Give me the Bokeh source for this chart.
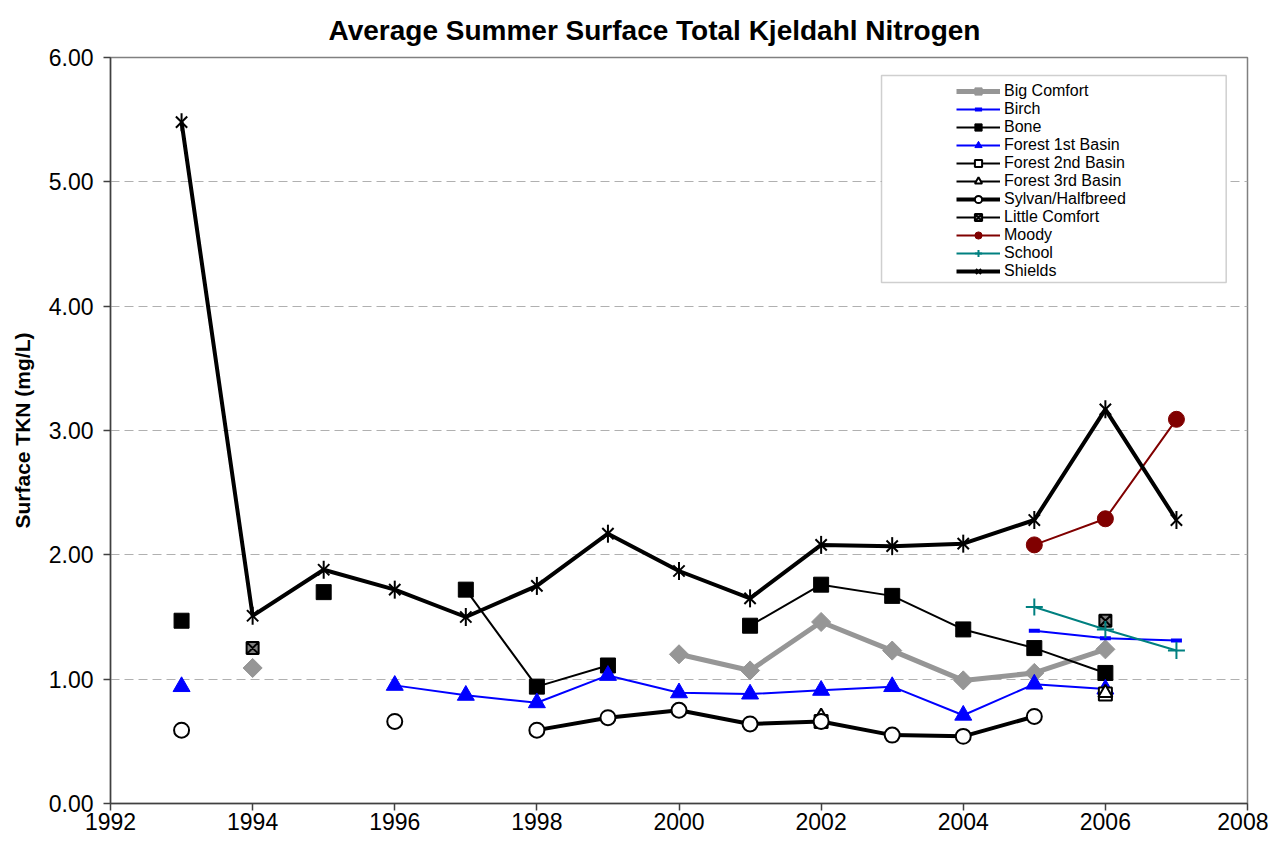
import math
from bokeh.plotting import figure
from bokeh.models import (Range1d, FixedTicker, NumeralTickFormatter,
                          Legend, LegendItem, BoxAnnotation)
from bokeh.embed import file_html
from bokeh.resources import INLINE

nan = float("nan")

years = [1993, 1994, 1995, 1996, 1997, 1998, 1999, 2000, 2001, 2002, 2003, 2004, 2005, 2006, 2007]

big_comfort  = [nan, 1.09, nan, nan, nan, nan, nan, 1.20, 1.07, 1.46, 1.23, 0.99, 1.05, 1.24, nan]
birch        = [nan, nan, nan, nan, nan, nan, nan, nan, nan, nan, nan, nan, 1.39, 1.33, 1.31]
bone         = [1.47, nan, 1.70, nan, 1.72, 0.94, 1.11, nan, 1.43, 1.76, 1.67, 1.40, 1.25, 1.05, nan]
forest1      = [0.94, nan, nan, 0.95, 0.87, 0.81, 1.03, 0.89, 0.88, 0.91, 0.94, 0.71, 0.96, 0.92, nan]
forest2      = [nan, nan, nan, nan, nan, nan, nan, nan, nan, 0.66, nan, nan, nan, 0.88, nan]
forest3      = [nan, nan, nan, nan, nan, nan, nan, nan, nan, 0.70, nan, nan, nan, 0.89, nan]
sylvan       = [0.59, nan, nan, 0.66, nan, 0.59, 0.69, 0.75, 0.64, 0.66, 0.55, 0.54, 0.70, nan, nan]
little_comf  = [nan, 1.25, nan, nan, nan, nan, nan, nan, nan, nan, nan, nan, nan, 1.47, nan]
moody        = [nan, nan, nan, nan, nan, nan, nan, nan, nan, nan, nan, nan, 2.08, 2.29, 3.09]
school       = [nan, nan, nan, nan, nan, nan, nan, nan, nan, nan, nan, nan, 1.58, 1.40, 1.23]
shields      = [5.48, 1.51, 1.88, 1.72, 1.50, 1.75, 2.17, 1.87, 1.65, 2.08, 2.07, 2.09, 2.28, 3.17, 2.28]

x_ticks = [1992, 1994, 1996, 1998, 2000, 2002, 2004, 2006, 2008]
y_ticks = [0, 1, 2, 3, 4, 5, 6]

FONT = "Liberation Sans"

p = figure(width=1268, height=840, output_backend="svg", toolbar_location=None,
           x_range=Range1d(1992, 2008), y_range=Range1d(0, 6),
           min_border_left=110, min_border_right=21, min_border_top=57, min_border_bottom=37)

p.title.text = "Average Summer Surface Total Kjeldahl Nitrogen"
p.title.text_font = FONT
p.title.text_font_size = "28px"
p.title.text_font_style = "bold"
p.title.text_color = "black"
p.title.align = "left"
p.title.offset = 218
p.title.standoff = 24

p.outline_line_color = "#808080"
p.outline_line_width = 1.5

p.xaxis.ticker = FixedTicker(ticks=x_ticks)
p.yaxis.ticker = FixedTicker(ticks=y_ticks)
p.yaxis.formatter = NumeralTickFormatter(format="0.00")
for ax in (p.xaxis[0], p.yaxis[0]):
    ax.axis_line_color = "#404040"
    ax.axis_line_width = 1.5
    ax.major_tick_line_color = "#404040"
    ax.major_tick_line_width = 1.5
    ax.major_tick_in = 0
    ax.major_tick_out = 7
    ax.minor_tick_line_color = None
    ax.major_label_text_font = FONT
    ax.major_label_text_font_size = "23px"
    ax.major_label_text_color = "black"
p.xaxis.major_label_standoff = 2
p.yaxis.major_label_standoff = 10
p.yaxis.axis_label = "Surface TKN (mg/L)"
p.yaxis.axis_label_text_font = FONT
p.yaxis.axis_label_text_font_size = "21px"
p.yaxis.axis_label_text_font_style = "bold"
p.yaxis.axis_label_text_color = "black"
p.yaxis.axis_label_standoff = 12

p.xgrid.grid_line_color = None
p.ygrid.grid_line_color = "#b0b0b0"
p.ygrid.grid_line_dash = "9 5"
p.ygrid.grid_line_width = 1.2

items = []

def add(label, ys, color, lw, markers):
    rs = []
    rs.append(p.line(years, ys, line_color=color, line_width=lw))
    for m in markers:
        rs.append(p.scatter(years, ys, **m))
    items.append(LegendItem(label=label, renderers=rs))

gray = "#969696"
add("Big Comfort", big_comfort, gray, 5,
    [dict(marker="square", size=13.5, angle=math.pi / 4, fill_color=gray, line_color=gray)])
add("Birch", birch, "#0000ff", 2,
    [dict(marker="dash", size=11, line_color="#0000ff", line_width=4)])
add("Bone", bone, "black", 2,
    [dict(marker="square", size=15, fill_color="black", line_color="black")])
add("Forest 1st Basin", forest1, "#0000ff", 2,
    [dict(marker="triangle", size=17, fill_color="#0000ff", line_color="#0000ff")])
add("Forest 2nd Basin", forest2, "black", 2,
    [dict(marker="square", size=13, fill_color="white", line_color="black", line_width=2)])
add("Forest 3rd Basin", forest3, "black", 2,
    [dict(marker="triangle", size=14, fill_color="white", line_color="black", line_width=2)])
add("Sylvan/Halfbreed", sylvan, "black", 4,
    [dict(marker="circle", size=15, fill_color="white", line_color="black", line_width=2)])
add("Little Comfort", little_comf, "black", 2,
    [dict(marker="square_x", size=12, fill_color="#808080", line_color="black", line_width=2)])
add("Moody", moody, "#800000", 2,
    [dict(marker="circle", size=16, fill_color="#800000", line_color="#800000")])
add("School", school, "#008080", 2,
    [dict(marker="cross", size=17, line_color="#008080", line_width=2)])
add("Shields", shields, "black", 4,
    [dict(marker="x", size=16, line_color="black", line_width=2),
     dict(marker="dash", size=18, angle=math.pi / 2, line_color="black", line_width=2)])

# legend frame
p.add_layout(BoxAnnotation(left=2002.85, right=2007.70, bottom=4.19, top=5.855,
                           fill_color="white", fill_alpha=1.0,
                           line_color="#606060", line_width=1.5, level="underlay"))

legend = Legend(items=items, location=(844, 521), orientation="vertical",
                label_text_font=FONT, label_text_font_size="16px",
                label_text_color="black",
                glyph_width=44, glyph_height=18, label_height=18, spacing=0,
                label_standoff=4, padding=2, margin=0,
                border_line_alpha=0, background_fill_alpha=0)
p.add_layout(legend, "center")

open("out.html", "w").write(file_html(p, INLINE))
